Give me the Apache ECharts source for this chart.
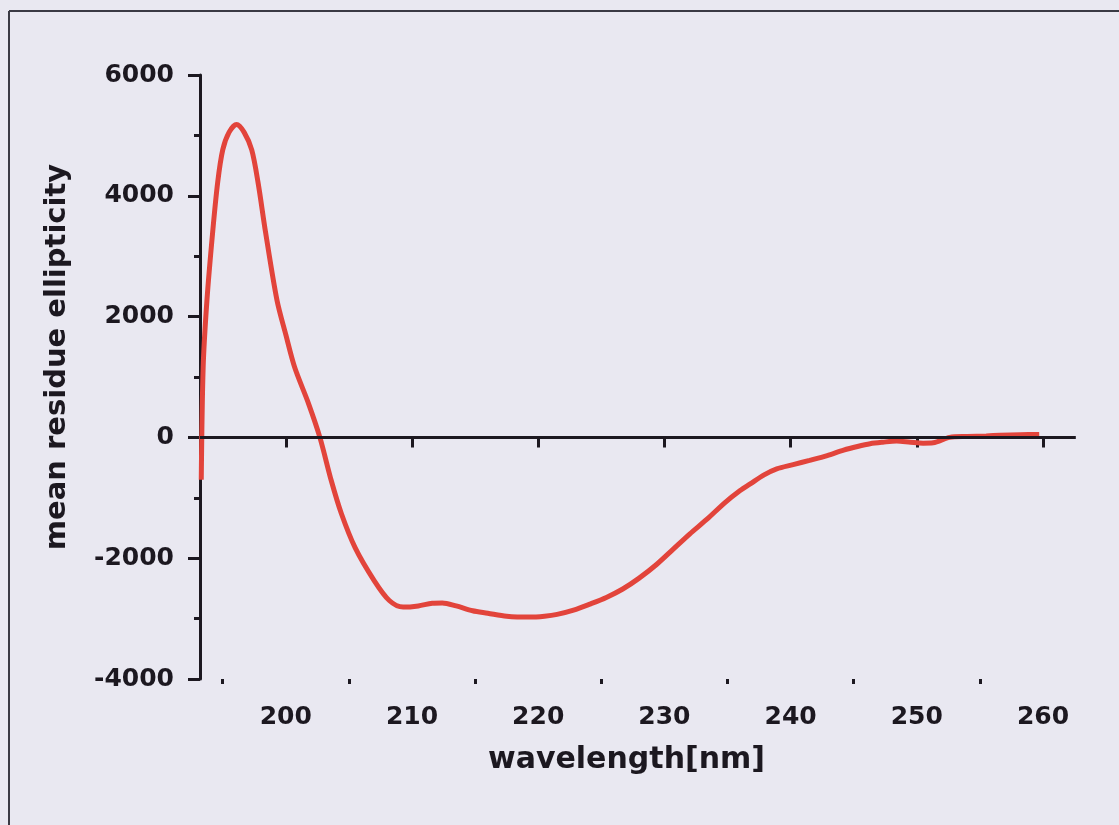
<!DOCTYPE html>
<html>
<head>
<meta charset="utf-8">
<script src="https://cdn.jsdelivr.net/npm/echarts@6/dist/echarts.min.js"></script>
<style>
  html, body { margin: 0; padding: 0; background: #e9e8f1; }
  #chart { width: 1119px; height: 825px; }
</style>
</head>
<body>
<div id="chart"></div>
<script>
// ---- data ----
const wavelength = [193.3, 193.45, 193.75, 194.2, 194.6, 195.0, 195.5, 196.1, 196.7, 197.3, 197.8, 198.4, 199.3, 200.0, 200.7, 201.8, 202.7, 203.6, 204.4, 205.5, 207.0, 208.2, 209.3, 210.5, 211.6, 212.4, 213.5, 214.8, 216.0, 217.5, 219.3, 220.5, 221.5, 222.8, 224.1, 225.4, 226.7, 228.0, 229.4, 230.7, 232.0, 233.4, 234.8, 236.0, 236.8, 237.9, 238.9, 240.2, 241.5, 242.9, 244.2, 245.3, 246.3, 247.3, 248.4, 249.5, 250.5, 251.3, 252.6, 254.0, 255.5, 256.6, 258.2, 259.7];
const ellipticity = [-700, 1160, 2270, 3390, 4220, 4760, 5050, 5180, 5050, 4760, 4220, 3390, 2270, 1700, 1160, 560, 0, -714, -1260, -1830, -2370, -2700, -2810, -2790, -2745, -2740, -2790, -2870, -2910, -2960, -2975, -2960, -2930, -2860, -2760, -2650, -2510, -2330, -2100, -1850, -1600, -1350, -1080, -880, -770, -620, -520, -450, -380, -300, -210, -150, -105, -80, -60, -80, -95, -90, 0, 15, 25, 35, 45, 50];
const zeroLineX = [193.2, 262.6];
const zeroLineY = [0, 0];
const xMajorTicks = [200, 210, 220, 230, 240, 250, 260];
const xMinorTicks = [195, 205, 215, 225, 235, 245, 255];
const xRange = [193.2, 260];
const yRange = [-4000, 6000];
const yInterval = 2000;
const xTitle = 'wavelength[nm]';
const yTitle = 'mean residue ellipticity';

const ink = '#1c1820';
const fontFam = '"DejaVu Sans", sans-serif';

const chart = echarts.init(document.getElementById('chart'), null, { renderer: 'canvas' });
chart.setOption({
  backgroundColor: '#e9e8f1',
  animation: false,
  grid: { left: 200, right: 76, top: 75, bottom: 146, containLabel: false },
  xAxis: [
    {
      type: 'value', min: xRange[0], max: xRange[1], position: 'bottom',
      splitLine: { show: false },
      axisLine: { show: true, lineStyle: { color: ink, width: 3 } },
      axisTick: { show: true, customValues: xMajorTicks, length: 10, lineStyle: { color: ink, width: 3 } },
      axisLabel: { show: true, customValues: xMajorTicks, margin: 26, color: ink, fontSize: 25, fontWeight: 'bold', fontFamily: fontFam },
      name: xTitle, nameLocation: 'middle', nameGap: 66,
      nameTextStyle: { color: ink, fontSize: 30, fontWeight: 'bold', fontFamily: fontFam, padding: [0, 0, 0, 10] }
    },
    {
      type: 'value', min: xRange[0], max: xRange[1], position: 'bottom',
      splitLine: { show: false },
      axisLine: { show: false },
      axisTick: { show: true, customValues: xMinorTicks, length: 5, lineStyle: { color: ink, width: 3 } },
      axisLabel: { show: false }
    }
  ],
  yAxis: {
    type: 'value', min: yRange[0], max: yRange[1], interval: yInterval,
    splitLine: { show: false },
    axisLine: { show: true, lineStyle: { color: ink, width: 3 } },
    axisTick: { show: true, length: 12, lineStyle: { color: ink, width: 3 } },
    minorTick: { show: true, splitNumber: 2, length: 6, lineStyle: { color: ink, width: 3 } },
    axisLabel: { margin: 26, color: ink, fontSize: 25, fontWeight: 'bold', fontFamily: fontFam, formatter: v => String(v) },
    name: yTitle, nameLocation: 'middle', nameGap: 128, nameRotate: 90,
    nameTextStyle: { color: ink, fontSize: 29, fontWeight: 'bold', fontFamily: fontFam, padding: [0, 0, 0, 40] }
  },
  series: [
    {
      type: 'line',
      data: wavelength.map((w, i) => [w, ellipticity[i]]),
      smooth: 0.3,
      showSymbol: false,
      lineStyle: { color: '#e2443b', width: 5 },
      z: 2
    }
  ]
});

// zero reference line: extends a little past the x-axis end, placed via the chart's own scales
const p0 = chart.convertToPixel({ xAxisIndex: 0, yAxisIndex: 0 }, [zeroLineX[0], zeroLineY[0]]);
const p1 = chart.convertToPixel({ xAxisIndex: 0, yAxisIndex: 0 }, [zeroLineX[1], zeroLineY[1]]);
chart.setOption({
  graphic: [
    { type: 'line', z: 10, shape: { x1: p0[0], y1: p0[1], x2: p1[0], y2: p1[1] }, style: { stroke: ink, lineWidth: 3 } },
    { type: 'line', shape: { x1: 9, y1: 11, x2: 1119, y2: 11 }, style: { stroke: '#3a3a44', lineWidth: 2 } },
    { type: 'line', shape: { x1: 9, y1: 11, x2: 9, y2: 825 }, style: { stroke: '#3a3a44', lineWidth: 2 } }
  ]
});
</script>
</body>
</html>
